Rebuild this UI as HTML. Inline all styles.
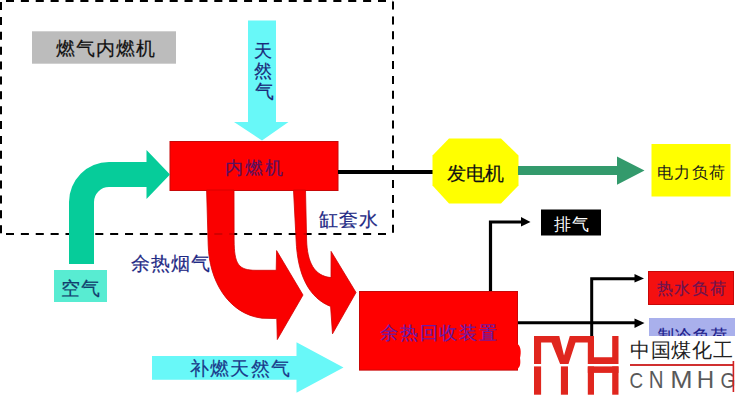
<!DOCTYPE html>
<html>
<head>
<meta charset="utf-8">
<style>
html,body{margin:0;padding:0;background:#fff;}
body{width:739px;height:400px;overflow:hidden;position:relative;font-family:"Liberation Sans",sans-serif;}
svg{position:absolute;left:0;top:0;}
svg text{font-family:"Liberation Sans",sans-serif;stroke-width:0.2px;}
</style>
</head>
<body>
<svg width="739" height="400" viewBox="0 0 739 400">
  <!-- gray label -->
  <rect x="32" y="31.3" width="144" height="32.4" fill="#bcbcbc"/>
  <text x="55.7" y="55.38" font-size="18.79" letter-spacing="1.06" fill="#111" stroke="#111">燃气内燃机</text>

  <!-- cyan down arrow (天然气) -->
  <polygon points="248,20.5 276,20.5 276,122 288.5,122 262,140.5 234,122 248,122" fill="#68f8f8"/>

  <!-- red box 内燃机 -->
  <rect x="170" y="141.5" width="168" height="49" fill="#ff0000" stroke="#c80808" stroke-width="1"/>

  <!-- dashed rect -->
  <g stroke="#000" stroke-width="2" stroke-dasharray="8 6.88" fill="none">
    <path d="M6,1 H393"/><path d="M6,234 H391"/><path d="M1,2 V234"/><path d="M393,1.5 V234"/>
  </g>
  <!-- red curved arrow left (余热烟气) -->
  <path d="M206.6,190 L234,190 L234.1,240 C234.3,264 238,270.3 256,270.3 L276.2,270.3 L276.6,250.6 L303,295 L277.3,339.5 L276.8,318.6 L262,318.2 C228,314 209,280 208.2,245 L206.6,190 Z" fill="#fa0000" stroke="#d00000" stroke-width="0.8"/>
  <!-- red curved arrow right (缸套水) -->
  <path d="M293.5,190 L305.5,190 L306.6,240 C307.2,262 314,276 331,277.6 L331.1,251.4 L356,292.5 L332.5,333.8 L330.6,306.4 C309,298 297.5,275 296.1,240 L293.5,190 Z" fill="#fa0000" stroke="#d00000" stroke-width="0.8"/>

  <!-- dashes faintly over arrows -->
  <g stroke="#000" opacity="0.15" stroke-width="2" stroke-dasharray="8 6.88" fill="none">
    <path d="M6,1 H393"/><path d="M6,234 H391"/><path d="M1,2 V234"/><path d="M393,1.5 V234"/>
  </g>
  <!-- teal bent arrow (空气) -->
  <path d="M69,264 L69,202 A40,40 0 0 1 109,162 L146.5,162 L146.5,150 L170,174.5 L146.5,199 L146.5,187 L109,187 A15,15 0 0 0 94,202 L94,264 Z" fill="#06cc9a"/>

  <!-- texts -->
  <text x="224.57" y="174.21" font-size="17.58" letter-spacing="2.03" fill="#5a1060" stroke="#5a1060">内燃机</text>
  <text x="253.57" y="56.53" font-size="18.29" letter-spacing="0.0" fill="#1a2a7a" stroke="#1a2a7a">天</text>
  <text x="253.75" y="76.59" font-size="17.95" letter-spacing="0.0" fill="#1a2a7a" stroke="#1a2a7a">然</text>
  <text x="254.6" y="97.6" font-size="19.13" letter-spacing="0.0" fill="#1a2a7a" stroke="#1a2a7a">气</text>
  <text x="319.19" y="226.37" font-size="18.83" letter-spacing="0.8" fill="#1f2a85" stroke="#1f2a85">缸套水</text>
  <text x="130.5" y="270.29" font-size="18.57" letter-spacing="1.19" fill="#1f2a85" stroke="#1f2a85">余热烟气</text>

  <!-- black line to generator -->
  <rect x="338" y="170" width="95" height="4" fill="#000"/>

  <!-- octagon 发电机 -->
  <polygon points="449,138.4 501,138.4 518.5,155.5 518.5,185.5 501,203.6 449,203.6 432.5,185.5 432.5,155.5" fill="#ffff00"/>
  <text x="447.0" y="179.53" font-size="19.37" letter-spacing="0.14" fill="#111" stroke="#111">发电机</text>

  <!-- green arrow -->
  <polygon points="518,166 617,166 617,156.5 644.5,170.5 617,184.7 617,175 518,175" fill="#339a6c"/>

  <!-- yellow box 电力负荷 -->
  <rect x="651.5" y="144" width="79" height="52.5" fill="#ffff00"/>
  <text x="657.01" y="177.72" font-size="16.42" letter-spacing="1.26" fill="#1a1a1a">电力负荷</text>

  <!-- 空气 label -->
  <rect x="54" y="270" width="53" height="32" fill="#58ecd2"/>
  <text x="60.93" y="295.19" font-size="19.41" letter-spacing="0.83" fill="#123e6e" stroke="#123e6e">空气</text>

  <!-- 补燃天然气 arrow -->
  <polygon points="152,356 296.5,356 296.5,342.3 343.5,367.5 296.5,392.8 296.5,379.7 152,379.7" fill="#68f8f8"/>
  <text x="190.19" y="375.44" font-size="18.95" letter-spacing="1.13" fill="#1a3a8a" stroke="#1a3a8a">补燃天然气</text>

  <!-- 余热回收装置 box -->
  <rect x="359.5" y="291.5" width="158" height="78.6" fill="#ff0000" stroke="#c80808" stroke-width="1"/>
  <path d="M516,343 C521,345 521.5,352 520,358 C521,364 520,369 515,370 Z" fill="#ff0000"/>
  <text x="380.0" y="338.68" font-size="17.97" letter-spacing="1.75" fill="#6a1aa8" stroke="#6a1aa8">余热回收装置</text>

  <!-- exhaust line -->
  <path d="M490.5,291 L490.5,222 L522,222" stroke="#000" stroke-width="3.2" fill="none"/>
  <polygon points="521,217 530.5,222 521,226.5" fill="#000"/>
  <rect x="541" y="209.5" width="60" height="26" fill="#000"/>
  <text x="553.92" y="229.67" font-size="16.69" letter-spacing="0.71" fill="#fff">排气</text>

  <!-- lines to loads -->
  <path d="M518,322.8 L636,322.8" stroke="#000" stroke-width="3" fill="none"/>
  <polygon points="634.5,318.5 644.5,323 634.5,328" fill="#000"/>
  <path d="M591.7,340 L591.7,278.7 L636,278.7" stroke="#000" stroke-width="3" fill="none"/>
  <polygon points="634.5,274 644,278.5 634.5,282.5" fill="#000"/>

  <!-- 热水负荷 -->
  <rect x="648.5" y="271.5" width="85" height="33" fill="#f41010" stroke="#c80808" stroke-width="1"/>
  <text x="656.9" y="294.37" font-size="16.04" letter-spacing="1.57" fill="#6a1452" stroke="#6a1452" stroke-width="0.2">热水负荷</text>

  <!-- 制冷负荷 -->
  <rect x="649" y="318" width="86" height="33" fill="#a9b0ec"/>
  <rect x="649" y="394.5" width="85" height="1.5" fill="#e4dce8"/>
  <text x="657.8" y="340.7" font-size="16.04" letter-spacing="1.57" fill="#1a1a8a" stroke="#1a1a8a">制冷负荷</text>

  <!-- logo white background -->
  <rect x="528" y="336" width="211" height="64" fill="#fff"/>
  <rect x="627.5" y="336" width="106.3" height="58.5" fill="#fff"/>
  <!-- logo MH -->
  <g fill="#e0261e">
    <polygon points="534,336 559.3,336 564,355.6 569.8,336 594,336 594,357.2 612.2,357.2 612.2,336 618.5,336 618.5,364.1 587.8,364.1 587.8,342.4 575.5,342.4 568.5,364.1 560.1,364.1 551.5,342.4 541.1,342.4 541.1,364.1 534,364.1"/>
    <rect x="534" y="366.4" width="7.1" height="28.3"/>
    <rect x="560.9" y="366.4" width="7.1" height="28.3"/>
    <rect x="587.8" y="366.4" width="6.2" height="28.3"/>
    <rect x="612.2" y="366.4" width="6.3" height="28.3"/>
    <rect x="587.8" y="366.4" width="30.7" height="6.5"/>
  </g>
  <text x="629.9" y="357.38" font-size="20.08" letter-spacing="0.73" fill="#222">中国煤化工</text>
  <rect x="630" y="364" width="104" height="2" fill="#d03030"/>
  <g fill="#585858" stroke="#fff" stroke-width="2.5">
<text transform="translate(629.46,387.58) scale(0.1889,0.2239)" font-size="100">C</text>
<text transform="translate(648.86,387.80) scale(0.2054,0.2304)" font-size="100">N</text>
<text transform="translate(670.15,387.80) scale(0.2687,0.2304)" font-size="100">M</text>
<text transform="translate(696.77,387.80) scale(0.2411,0.2304)" font-size="100">H</text>
<text transform="translate(720.44,387.58) scale(0.1923,0.2239)" font-size="100">G</text>
  </g>
  <rect x="732.6" y="361" width="1.6" height="31" fill="#d02020"/>
</svg>
</body>
</html>
